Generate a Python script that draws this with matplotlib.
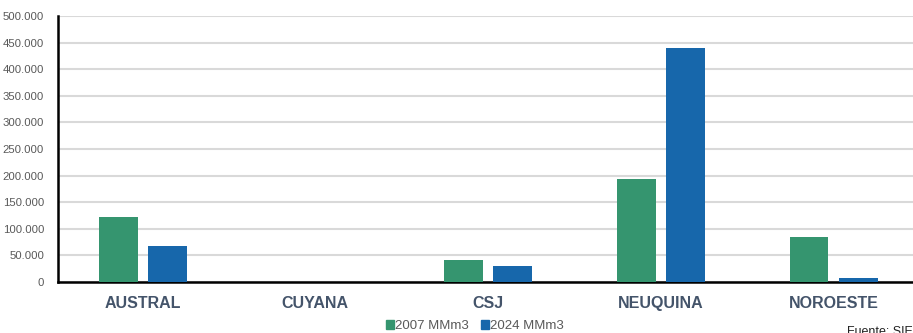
import matplotlib.pyplot as plt
import numpy as np
from matplotlib.patches import Patch

plt.rcParams['font.family'] = ['Liberation Sans', 'DejaVu Sans']

basins = ['AUSTRAL', 'CUYANA', 'CSJ', 'NEUQUINA', 'NOROESTE']
prod_2007 = [123000, 0, 41000, 194000, 84000]
prod_2024 = [68000, 0, 30000, 439000, 8000]
series_names = ['2007 MMm3', '2024 MMm3']
ticks = list(range(0, 500001, 50000))
tick_labels = ['{:,}'.format(t).replace(',', '.') for t in ticks]

green = '#35956f'
blue = '#1767ab'

fig = plt.figure(figsize=(9.13, 3.33), dpi=100)
ax = fig.add_axes([0.0635, 0.153, 0.946, 0.799])

x = np.arange(len(basins))
w = 0.225
ax.bar(x - 0.142, prod_2007, w, color=green, zorder=3)
ax.bar(x + 0.142, prod_2024, w, color=blue, zorder=3)

ax.set_xlim(-0.49, 4.51)
ax.set_ylim(0, 500000)
ax.set_yticks(ticks)
ax.set_yticklabels(tick_labels, color='#595959', fontsize=8.2)
ax.yaxis.grid(True, color='#d9d9d9', linewidth=1.5, zorder=0)
ax.tick_params(axis='y', length=0, pad=10)
ax.tick_params(axis='x', length=0, pad=10)
ax.set_xticks(x)
ax.set_xticklabels(basins, fontsize=11.5, fontweight='bold', color='#44546a')

for s in ['top', 'right']:
    ax.spines[s].set_visible(False)
ax.spines['left'].set_linewidth(1.8)
ax.spines['bottom'].set_linewidth(1.8)
ax.spines['left'].set_color('black')
ax.spines['bottom'].set_color('black')

handles = [Patch(color=green), Patch(color=blue)]
fig.legend(handles, series_names, loc='center', bbox_to_anchor=(0.52, 0.02),
           ncol=2, frameon=False, fontsize=9.5, handlelength=0.6, handleheight=0.6,
           handletextpad=0.1, columnspacing=0.9, labelcolor='#595959')

fig.text(0.928, 0.022, 'Fuente: SIE', fontsize=9, color='#222222', va='top')

fig.savefig('out.png', dpi=100)
